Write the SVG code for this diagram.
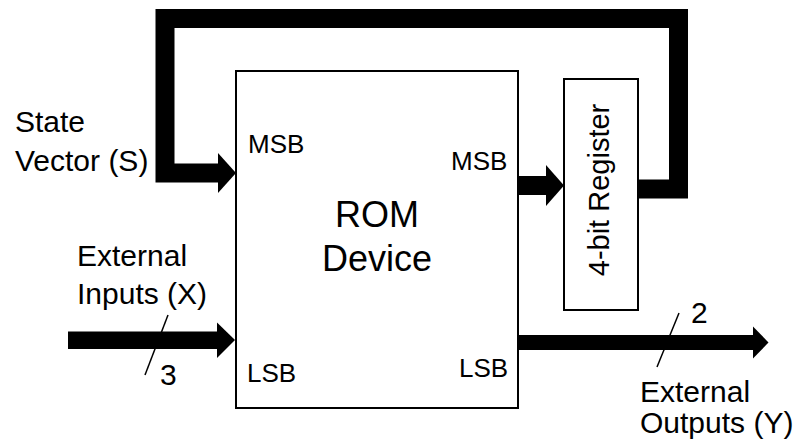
<svg xmlns="http://www.w3.org/2000/svg" width="809" height="448" viewBox="0 0 809 448">
  <style>
    .box { fill: #ffffff; stroke: #000000; stroke-width: 2; }
    .lbl { font-family: "Liberation Sans", Arial, sans-serif; fill: #000000; }
    .ext { font-size: 30px; }
    .pin { font-size: 26px; }
    .big { font-size: 36px; }
    .reg { font-size: 29px; }
    .bus { fill: none; stroke: #000000; stroke-width: 19; stroke-linejoin: miter; }
    .solid { fill: #000000; stroke: none; }
    .slash { stroke: #000000; stroke-width: 1.5; fill: none; }
  </style>
  <rect width="809" height="448" fill="#ffffff"/>

  <g id="rom">
    <rect class="box" x="236" y="71" width="282" height="337"/>
    <text class="lbl big" x="377" y="227" text-anchor="middle">ROM</text>
    <text class="lbl big" x="377" y="271" text-anchor="middle">Device</text>
    <text class="lbl pin" x="248" y="153">MSB</text>
    <text class="lbl pin" x="451" y="170">MSB</text>
    <text class="lbl pin" x="247" y="382">LSB</text>
    <text class="lbl pin" x="459" y="377">LSB</text>
  </g>

  <g id="register">
    <rect class="box" x="564" y="79" width="74" height="231"/>
    <text class="lbl reg" transform="translate(609,190) rotate(-90)" text-anchor="middle">4-bit Register</text>
  </g>

  <g id="state-label">
    <text class="lbl ext" x="15" y="132">State</text>
    <text class="lbl ext" x="15" y="171">Vector (S)</text>
  </g>

  <g id="inputs-label">
    <text class="lbl ext" x="77" y="266">External</text>
    <text class="lbl ext" x="77" y="304">Inputs (X)</text>
    <text class="lbl ext" x="160" y="385">3</text>
  </g>

  <g id="outputs-label">
    <text class="lbl ext" x="691" y="323">2</text>
    <text class="lbl ext" x="640" y="402">External</text>
    <text class="lbl ext" x="640" y="433">Outputs (Y)</text>
  </g>

  <g id="connectors">
    <polyline class="bus" points="638,189 678.5,189 678.5,18.5 165,18.5 165,173 218.5,173"/>
    <polygon class="solid" points="218,153 236,173 218,193"/>

    <rect class="solid" x="519" y="176" width="27.5" height="19"/>
    <polygon class="solid" points="546,165 564,185.5 546,206"/>

    <rect class="solid" x="68" y="331.5" width="149.5" height="17.5"/>
    <polygon class="solid" points="217,322.5 235,340 217,358"/>
    <line class="slash" x1="168" y1="315" x2="145" y2="375"/>

    <rect class="solid" x="518" y="335" width="235.5" height="15"/>
    <polygon class="solid" points="753,326.5 768.5,342.5 753,358.5"/>
    <line class="slash" x1="679" y1="313" x2="657" y2="367"/>
  </g>
</svg>
